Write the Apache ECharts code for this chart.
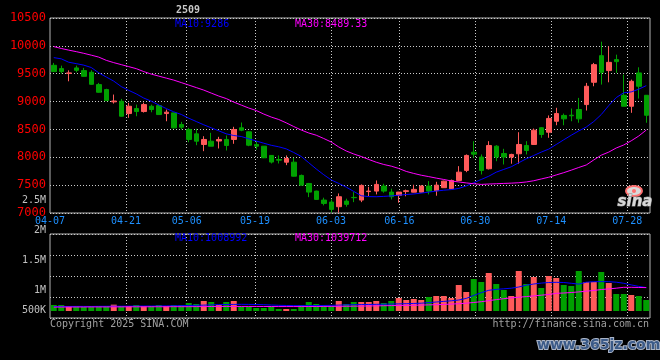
<!DOCTYPE html>
<html><head><meta charset="utf-8">
<script src="https://cdn.jsdelivr.net/npm/echarts@6.0.0/dist/echarts.min.js"></script>
<style>html,body{margin:0;padding:0;background:#000}#c{width:660px;height:360px}</style>
</head><body><div id="c"></div><script>
const dates = ['04-07','04-08','04-09','04-10','04-11','04-14','04-15','04-16','04-17','04-18',
'04-21','04-22','04-23','04-24','04-25','04-28','04-29','04-30',
'05-06','05-07','05-08','05-09','05-12','05-13','05-14','05-15','05-16','05-19','05-20','05-21','05-22','05-23','05-26','05-27','05-28','05-29','05-30',
'06-03','06-04','06-05','06-06','06-09','06-10','06-11','06-12','06-13','06-16','06-17','06-18','06-19','06-20','06-23','06-24','06-25','06-26','06-27','06-30',
'07-01','07-02','07-03','07-04','07-07','07-08','07-09','07-10','07-11','07-14','07-15','07-16','07-17','07-18','07-21','07-22','07-23','07-24','07-25','07-28','07-29','07-30','07-31'];
const tickDates = ['04-07','04-21','05-06','05-19','06-03','06-16','06-30','07-14','07-28'];

const opens = [9651,9592,9505,9604,9556,9525,9305,9215,8995,9005,
8785,8875,8821,8916,8928,8785,8797,8588,8499,8421,
8230,8289,8292,8320,8320,8529,8457,8230,8199,8033,
7960,7912,7912,7674,7530,7393,7232,7196,7113,7214,
7280,7232,7385,7393,7483,7375,7316,7385,7374,7374,
7483,7400,7454,7435,7584,7764,8092,8004,7794,8200,
8068,8004,8063,8212,8230,8530,8450,8647,8751,8755,
8857,8946,9346,9824,9556,9753,9113,8916,9514,9113];
const closes = [9538,9538,9515,9561,9453,9310,9167,9018,9010,8737,
8916,8821,8946,8857,8767,8810,8528,8540,8320,8289,
8320,8199,8320,8212,8499,8486,8217,8199,7991,7914,
7948,7979,7661,7500,7375,7244,7172,7065,7292,7155,
7275,7495,7393,7513,7393,7292,7375,7400,7424,7483,
7393,7500,7572,7584,7733,8033,8056,7764,8212,8004,
8004,8051,8230,8122,8486,8409,8697,8785,8690,8745,
8690,9275,9663,9525,9704,9717,8916,9364,9275,8754];
const lows = [9530,9502,9364,9525,9448,9305,9160,9010,8964,8730,
8708,8737,8803,8808,8762,8647,8520,8499,8270,8217,
8110,8199,8158,8122,8242,8468,8199,8140,7985,7889,
7889,7859,7655,7495,7285,7240,7137,7010,7006,7113,
7195,7195,7303,7334,7364,7244,7185,7300,7370,7370,
7334,7310,7450,7435,7572,7733,7991,7692,7782,7930,
7871,7884,7884,8051,8220,8350,8350,8575,8575,8647,
8620,8839,9275,9305,9346,9514,8916,8798,9054,8620];
const highs = [9694,9645,9561,9645,9604,9561,9335,9230,9126,9048,
8977,8946,8982,8946,8946,8857,8800,8636,8529,8511,
8378,8439,8367,8391,8547,8624,8468,8289,8199,8040,
8033,8033,7991,7690,7540,7400,7275,7244,7351,7257,
7375,7513,7470,7584,7525,7436,7380,7420,7507,7500,
7572,7560,7580,7600,7841,8051,8289,8051,8289,8217,
8152,8063,8450,8289,8516,8540,8751,8888,8785,8875,
9066,9335,9694,10075,9991,9842,9484,9394,9615,9113];
const ma10 = [9789,9767,9706,9681,9654,9611,9516,9441,9367,9269,
9201,9138,9063,9007,8939,8875,8816,8769,8701,8642,
8583,8529,8475,8421,8391,8373,8332,8292,8253,8215,
8188,8151,8086,8015,7902,7790,7687,7593,7531,7464,
7387,7310,7294,7292,7298,7307,7319,7332,7342,7357,
7375,7394,7409,7420,7441,7486,7543,7602,7660,7733,
7782,7830,7902,7973,8032,8093,8147,8230,8314,8396,
8473,8543,8642,8767,8928,9072,9158,9174,9222,9286];
const ma30 = [9987,9953,9923,9896,9866,9833,9798,9740,9699,9663,
9627,9591,9538,9493,9457,9421,9385,9341,9296,9251,
9206,9152,9099,9054,8991,8937,8884,8839,8776,8722,
8678,8618,8552,8489,8436,8396,8337,8274,8185,8113,
8059,8014,7961,7911,7871,7841,7799,7746,7710,7678,
7653,7626,7602,7575,7557,7540,7525,7513,7520,7525,
7531,7536,7543,7557,7579,7611,7642,7683,7724,7769,
7817,7862,7952,8038,8093,8167,8221,8296,8382,8489];
const volumes = [750000,750000,733000,733000,717000,733000,733000,733000,756000,733000,
733000,750000,733000,733000,750000,733000,750000,750000,783000,767000,
817000,800000,750000,800000,817000,717000,717000,700000,700000,717000,
683000,683000,683000,750000,800000,767000,750000,733000,817000,767000,
800000,800000,800000,817000,783000,817000,867000,833000,850000,833000,
883000,900000,900000,867000,1083000,967000,1183000,1133000,1283000,1100000,
1000000,900000,1317000,1100000,1217000,1033000,1233000,1200000,1083000,1067000,
1317000,1133000,1133000,1300000,1117000,933000,933000,917000,900000,833000];
const volMa10 = [725000,726000,726000,727000,727000,726000,728000,729000,730000,730000,
731000,732000,733000,733000,734000,735000,737000,739000,742000,745000,
748000,752000,756000,758000,760000,761000,760000,758000,755000,750000,
745000,742000,740000,739000,740000,741000,742000,744000,748000,752000,
755000,757000,759000,761000,763000,766000,769000,772000,776000,780000,
790000,800000,810000,820000,833000,860000,910000,955000,995000,1010000,
1020000,1030000,1050000,1080000,1100000,1115000,1125000,1128000,1125000,1112000,
1098000,1130000,1138000,1140000,1138000,1130000,1112000,1085000,1060000,1040000];
const volMa30 = [715000,716000,716000,717000,717000,718000,718000,718000,719000,719000,
720000,720000,720000,721000,721000,721000,722000,722000,722000,723000,
724000,725000,725000,726000,726000,726000,726000,726000,725000,725000,
724000,724000,724000,724000,725000,725000,726000,727000,728000,729000,
730000,732000,734000,736000,738000,740000,742000,744000,746000,749000,
752000,755000,760000,765000,772000,780000,792000,805000,822000,840000,
855000,868000,880000,890000,902000,914000,925000,945000,950000,958000,
968000,980000,992000,1008000,1018000,1030000,1045000,1045000,1042000,1040000];
const priceRange = [7000, 10500];
const priceStep = 500;
const volRange = [650000, 1933333];
const volTickLabels = ['2.5M','2M','1.5M','1M','500K'];
const volTickValues = [2500000, 2000000, 1500000, 1000000, 500000];
const titleText = '2509';
const priceMaTexts = ['MA10:9286', 'MA30:8489.33'];
const volMaTexts = ['MA10:1008992', 'MA30:1039712'];

const chart = echarts.init(document.getElementById('c'), null, {renderer: 'canvas'});
const MONO = '"DejaVu Sans Mono", monospace';
const UP = '#ff5a5a', DOWN = '#00a000';
const GRIDC = '#cccccc', BORDER = '#b4b4b4';
const dotted = {color: GRIDC, width: 1, type: [1, 2]};
const showTick = (i, v) => tickDates.indexOf(v) >= 0;
const showSplit = (i, v) => i > 0 && tickDates.indexOf(v) >= 0;
const candles = dates.map((d, i) => [opens[i], closes[i], lows[i], highs[i]]);
const volData = volumes.map((v, i) => ({value: v, itemStyle: {color: closes[i] >= opens[i] ? UP : DOWN}}));

chart.setOption({
  backgroundColor: '#000',
  animation: false,
  grid: [
    {left: 50, top: 18, width: 600, height: 195, show: true, borderColor: BORDER, borderWidth: 1, backgroundColor: 'transparent'},
    {left: 50, top: 234, width: 600, height: 84, show: true, borderColor: BORDER, borderWidth: 1, backgroundColor: 'transparent'},
    {left: 50, top: 234, width: 600, height: 77, show: false}
  ],
  xAxis: [
    {type: 'category', gridIndex: 0, data: dates, boundaryGap: true, show: false, position: 'top'},
    {type: 'category', gridIndex: 0, data: dates, boundaryGap: false, position: 'bottom',
      axisLine: {show: false}, axisTick: {show: false},
      axisLabel: {interval: showTick, color: '#1e90ff', fontFamily: MONO, fontSize: 10, margin: 3, hideOverlap: false},
      splitLine: {show: true, interval: showSplit, lineStyle: dotted}},
    {type: 'category', gridIndex: 1, data: dates, boundaryGap: false, position: 'bottom',
      axisLine: {show: false}, axisTick: {show: false}, axisLabel: {show: false},
      splitLine: {show: true, interval: showSplit, lineStyle: dotted}},
    {type: 'category', gridIndex: 2, data: dates, boundaryGap: true, show: false, position: 'top'}
  ],
  yAxis: [
    {type: 'value', gridIndex: 0, min: priceRange[0], max: priceRange[1], interval: priceStep,
      axisLine: {show: false}, axisTick: {show: false},
      axisLabel: {color: '#ff0000', fontFamily: MONO, fontSize: 12, margin: 4, formatter: v => String(v)},
      splitLine: {show: true, lineStyle: dotted}},
    {type: 'value', gridIndex: 1, min: 0, max: 4, interval: 1,
      axisLine: {show: false}, axisTick: {show: false}, axisLabel: {show: false},
      splitLine: {show: true, lineStyle: dotted}},
    {type: 'value', gridIndex: 2, min: volRange[0], max: volRange[1], show: false, splitLine: {show: false}}
  ],
  series: [
    {type: 'candlestick', xAxisIndex: 0, yAxisIndex: 0, data: candles, barWidth: 5,
      itemStyle: {color: UP, color0: DOWN, borderColor: UP, borderColor0: DOWN, borderWidth: 1}},
    {type: 'line', xAxisIndex: 0, yAxisIndex: 0, data: ma10, showSymbol: false, symbol: 'none',
      lineStyle: {color: '#0000ff', width: 1}, z: 5},
    {type: 'line', xAxisIndex: 0, yAxisIndex: 0, data: ma30, showSymbol: false, symbol: 'none',
      lineStyle: {color: '#ff00ff', width: 1}, z: 5},
    {type: 'bar', xAxisIndex: 3, yAxisIndex: 2, data: volData, barWidth: 6},
    {type: 'line', xAxisIndex: 3, yAxisIndex: 2, data: volMa10, showSymbol: false, symbol: 'none',
      lineStyle: {color: '#0000ff', width: 1}, z: 5},
    {type: 'line', xAxisIndex: 3, yAxisIndex: 2, data: volMa30, showSymbol: false, symbol: 'none',
      lineStyle: {color: '#ff00ff', width: 1}, z: 5}
  ]
});

function txt(text, x, y, fill, font, align, extra) {
  return Object.assign({type: 'text', x: x, y: y, z: 100,
    style: Object.assign({text: text, fill: fill, font: font, align: align || 'left', verticalAlign: 'middle'}, extra || {})});
}
const F10 = '10px ' + MONO;
const g = [];
g.push(txt(titleText, 188, 10, '#c8c8c8', 'bold 10px ' + MONO, 'center'));
g.push(txt(priceMaTexts[0], 175, 24, '#0000ff', F10));
g.push(txt(priceMaTexts[1], 295, 24, '#ff00ff', F10));
g.push(txt(volMaTexts[0], 175, 238.5, '#0000ff', F10));
g.push(txt(volMaTexts[1], 295, 238.5, '#ff00ff', F10));
volTickLabels.forEach((lab, k) => {
  let y = chart.convertToPixel({yAxisIndex: 2}, volTickValues[k]);
  if (!isFinite(y)) y = 311 - (volTickValues[k] - volRange[0]) * 77 / (volRange[1] - volRange[0]);
  y = Math.min(y, 310.5);
  g.push(txt(lab, 46, y, '#c0c0c0', F10, 'right'));
});
g.push(txt('Copyright 2025 SINA.COM', 50, 324, '#a0a0a0', F10));
g.push(txt('http://finance.sina.com.cn', 649, 324, '#a0a0a0', F10, 'right'));
g.push({type: 'ellipse', z: 100, shape: {cx: 634, cy: 191, rx: 8, ry: 5},
  style: {fill: 'rgba(255,255,255,0.85)', stroke: '#ff7070', lineWidth: 2}});
g.push({type: 'circle', z: 101, shape: {cx: 634, cy: 191, r: 2},
  style: {fill: '#ff7070'}});
g.push(txt('sina', 635, 202, '#d8d8d8', 'italic bold 15px "DejaVu Sans"', 'center', {stroke: '#888888', lineWidth: 1}));
g.push(txt('www.365jz.com', 537, 345, '#3b5a88', 'bold 14px "DejaVu Sans"', 'left', {stroke: '#aab4c6', lineWidth: 2}));
chart.setOption({graphic: g});
</script></body></html>
